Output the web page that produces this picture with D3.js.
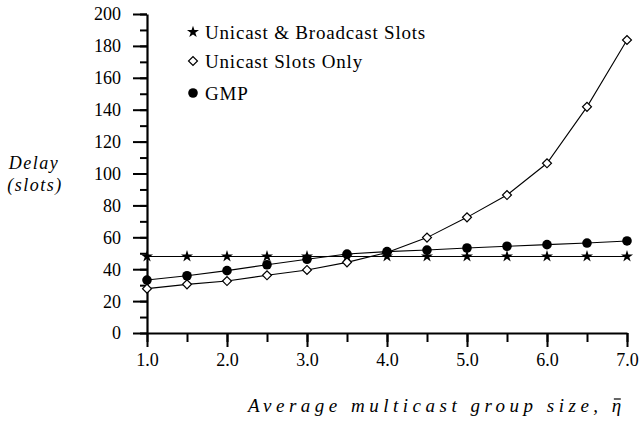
<!DOCTYPE html>
<html><head><meta charset="utf-8">
<script src="https://cdn.jsdelivr.net/npm/d3@7"></script>
<style>
body{margin:0;background:#fff;}
svg{display:block;}
text{font-family:"Liberation Serif","DejaVu Serif",serif;fill:#000;}
</style></head>
<body><svg id="c" width="641" height="422"></svg>
<script>
const groupSizes = [1.0,1.5,2.0,2.5,3.0,3.5,4.0,4.5,5.0,5.5,6.0,6.5,7.0];
const unicastBroadcast = [48,48,48,48,48,48,48,48,48,48,48,48,48];
const unicastOnly = [27.8,30.5,32.6,36.2,39.5,44.3,50.5,59.8,72.5,86.5,106.4,141.8,183.7];
const gmp = [33.2,35.9,39.1,42.8,46.2,49.5,51,52,53.3,54.4,55.4,56.4,57.7];
const seriesNames = ["Unicast & Broadcast Slots","Unicast Slots Only","GMP"];
const yMajorTicks = [0,20,40,60,80,100,120,140,160,180,200];
const xMajorTicks = [1,2,3,4,5,6,7];

const serif = '"Liberation Serif","DejaVu Serif",serif';
const svg = d3.select("#c");
const x = d3.scaleLinear().domain([1,7]).range([147,627]);
const y = d3.scaleLinear().domain([0,200]).range([333,14]);

// minor ticks
svg.append("g").attr("transform","translate(147,0)")
  .call(d3.axisLeft(y).tickValues(d3.range(0,201,10)).tickSize(7).tickFormat(""))
  .call(g=>{g.select(".domain").remove();g.selectAll("line").attr("stroke-width",2);});
svg.append("g").attr("transform","translate(0,333)")
  .call(d3.axisBottom(x).tickValues(d3.range(1,7.01,0.5)).tickSize(9).tickFormat(""))
  .call(g=>{g.select(".domain").remove();g.selectAll("line").attr("stroke-width",2);});
// major
const ya = svg.append("g").attr("transform","translate(147,0)")
  .call(d3.axisLeft(y).tickValues(yMajorTicks).tickSize(14).tickSizeOuter(0).tickPadding(12).tickFormat(d3.format("d")));
ya.attr("font-family",serif).attr("font-size",18);
ya.select(".domain").attr("stroke-width",2.2);
ya.selectAll("line").attr("stroke-width",2);
ya.selectAll("text").style("font-family",serif).attr("font-size",18).attr("dy","0.33em");
const xa = svg.append("g").attr("transform","translate(0,333)")
  .call(d3.axisBottom(x).tickValues(xMajorTicks).tickSize(14).tickSizeOuter(0).tickPadding(6).tickFormat(d3.format(".1f")));
xa.attr("font-family",serif).attr("font-size",18);
xa.select(".domain").attr("stroke-width",2.2);
xa.selectAll("line").attr("stroke-width",2);
xa.selectAll("text").style("font-family",serif).attr("font-size",18);

const data = [unicastBroadcast, unicastOnly, gmp];
const line = d3.line().x((d,i)=>x(groupSizes[i])).y(d=>y(d));
data.forEach(s=>{
  svg.append("path").datum(s).attr("d",line).attr("fill","none").attr("stroke","#000").attr("stroke-width",1.1);
});
const star = d3.symbol().type(d3.symbolStar).size(45);
const diamond = d3.symbol().type(d3.symbolSquare).size(40);
function drawMarker(g, k, cx, cy){
  if(k===0) g.append("path").attr("d",star()).attr("transform",`translate(${cx},${cy})`).attr("fill","#000");
  else if(k===1) g.append("path").attr("d",diamond()).attr("transform",`translate(${cx},${cy}) rotate(45)`).attr("fill","#fff").attr("stroke","#000").attr("stroke-width",1.2);
  else g.append("circle").attr("cx",cx).attr("cy",cy).attr("r",4.8).attr("fill","#000");
}
data.forEach((s,k)=>{
  const g = svg.append("g");
  s.forEach((v,i)=>drawMarker(g,k,x(groupSizes[i]),y(v)));
});

// legend
const legY = [32,61,93];
seriesNames.forEach((n,k)=>{
  drawMarker(svg,k,193,legY[k]);
  svg.append("text").attr("x",205).attr("y",legY[k]).attr("dy","0.35em").attr("font-size",19).attr("letter-spacing","0.8px").text(n);
});

// axis titles
svg.append("text").attr("x",34).attr("y",163).attr("dy","0.35em").attr("text-anchor","middle").attr("font-style","italic").attr("font-size",18).attr("letter-spacing","1.5px").text("Delay");
svg.append("text").attr("x",35).attr("y",185).attr("dy","0.35em").attr("text-anchor","middle").attr("font-style","italic").attr("font-size",18).attr("letter-spacing","1.5px").text("(slots)");
const xt = svg.append("text").attr("x",248).attr("y",412).attr("font-style","italic").attr("font-size",19).attr("letter-spacing","4.5px");
xt.append("tspan").text("Average multicast group size, ");
xt.append("tspan").text("η");
// macron over eta
const etaBox = xt.node().getExtentOfChar(xt.node().getNumberOfChars()-1);
svg.append("line").attr("x1",etaBox.x+2).attr("x2",etaBox.x+etaBox.width-5)
  .attr("y1",etaBox.y+4).attr("y2",etaBox.y+4).attr("stroke","#000").attr("stroke-width",1.2);
</script></body></html>
